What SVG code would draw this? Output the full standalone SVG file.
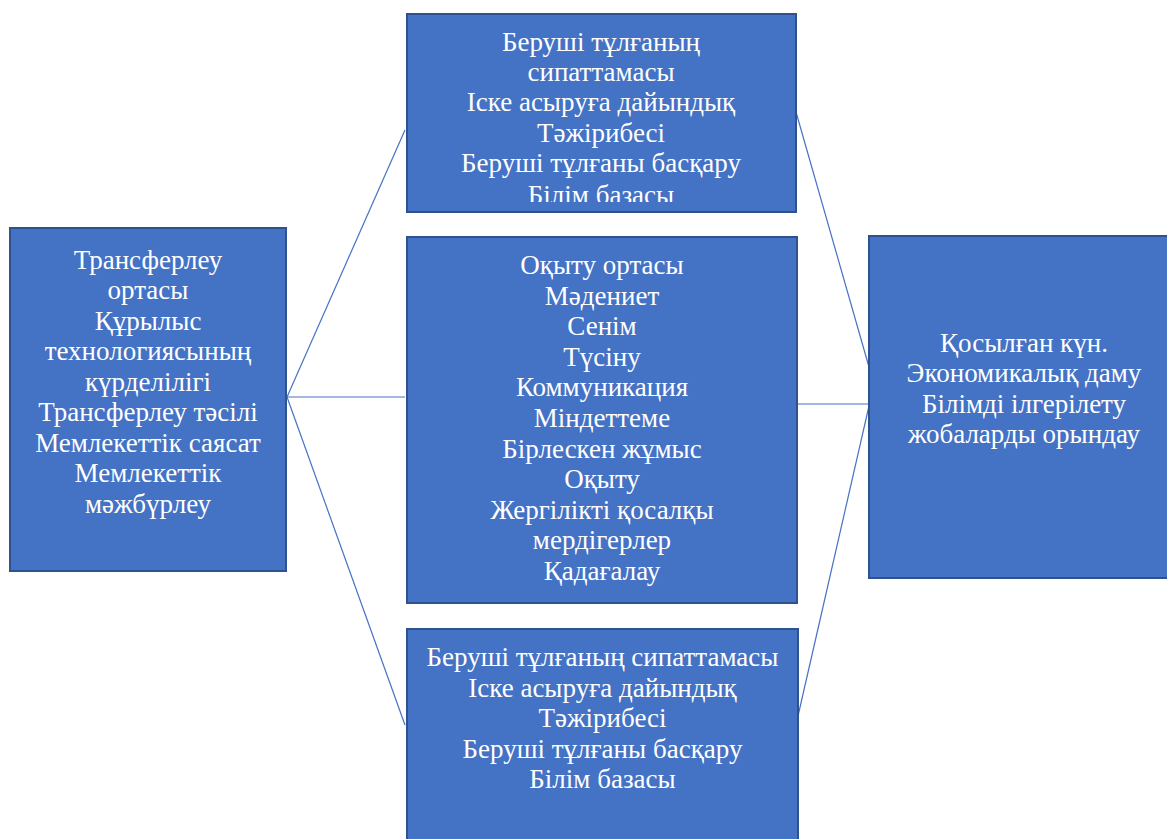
<svg xmlns="http://www.w3.org/2000/svg" width="1167" height="839" viewBox="0 0 1167 839">
<style>
.box{fill:#4472C4;stroke:#2F528F;stroke-width:2}
.t{font-family:'Liberation Serif','Times New Roman',serif;font-size:27px;fill:#ffffff;text-anchor:middle}
.c{stroke:#4472C4;stroke-width:1.2;fill:none}
</style>
<defs>
<clipPath id="clipTop"><rect x="408" y="15" width="386" height="187"/></clipPath>
</defs>
<rect width="1167" height="839" fill="#ffffff"/>
<g id="connectors">
<line class="c" x1="287" y1="397" x2="405" y2="130"/>
<line class="c" x1="287" y1="397" x2="405" y2="397"/>
<line class="c" x1="287" y1="397" x2="405" y2="725"/>
<line class="c" x1="796" y1="112" x2="869" y2="367"/>
<line class="c" x1="797" y1="404" x2="869" y2="404"/>
<line class="c" x1="798" y1="716" x2="869" y2="406"/>
</g>
<g id="left">
<rect class="box" x="10" y="228" width="276" height="343"/>
<text class="t" x="148" y="268.5">Трансферлеу</text>
<text class="t" x="148" y="299">ортасы</text>
<text class="t" x="148" y="329.5">Құрылыс</text>
<text class="t" x="148" y="360">технологиясының</text>
<text class="t" x="148" y="390.5">күрделілігі</text>
<text class="t" x="148" y="421">Трансферлеу тәсілі</text>
<text class="t" x="148" y="451.5">Мемлекеттік саясат</text>
<text class="t" x="148" y="482">Мемлекеттік</text>
<text class="t" x="148" y="512.5">мәжбүрлеу</text>
</g>
<g id="top">
<rect class="box" x="407" y="14" width="389" height="198"/>
<g clip-path="url(#clipTop)">
<text class="t" x="601" y="50.5">Беруші тұлғаның</text>
<text class="t" x="601" y="81">сипаттамасы</text>
<text class="t" x="601" y="111.3">Іске асыруға дайындық</text>
<text class="t" x="601" y="141.6">Тәжірибесі</text>
<text class="t" x="601" y="172">Беруші тұлғаны басқару</text>
<text class="t" x="601" y="203.5">Білім базасы</text>
</g>
</g>
<g id="middle">
<rect class="box" x="407" y="237" width="390" height="366"/>
<text class="t" x="602" y="274">Оқыту ортасы</text>
<text class="t" x="602" y="304.6">Мәдениет</text>
<text class="t" x="602" y="335.2">Сенім</text>
<text class="t" x="602" y="365.8">Түсіну</text>
<text class="t" x="602" y="396.4">Коммуникация</text>
<text class="t" x="602" y="427">Міндеттеме</text>
<text class="t" x="602" y="457.6">Бірлескен жұмыс</text>
<text class="t" x="602" y="488.2">Оқыту</text>
<text class="t" x="602" y="518.8">Жергілікті қосалқы</text>
<text class="t" x="602" y="549.4">мердігерлер</text>
<text class="t" x="602" y="580">Қадағалау</text>
</g>
<g id="bottom">
<rect class="box" x="407" y="629" width="391" height="220"/>
<text class="t" x="602.5" y="666">Беруші тұлғаның сипаттамасы</text>
<text class="t" x="602.5" y="696.6">Іске асыруға дайындық</text>
<text class="t" x="602.5" y="727.2">Тәжірибесі</text>
<text class="t" x="602.5" y="757.8">Беруші тұлғаны басқару</text>
<text class="t" x="602.5" y="788.4">Білім базасы</text>
</g>
<g id="right">
<rect class="box" x="869" y="236" width="310" height="342"/>
<text class="t" x="1024" y="351.5">Қосылған күн.</text>
<text class="t" x="1024" y="382">Экономикалық даму</text>
<text class="t" x="1024" y="412.5">Білімді ілгерілету</text>
<text class="t" x="1024" y="443">жобаларды орындау</text>
</g>
</svg>
